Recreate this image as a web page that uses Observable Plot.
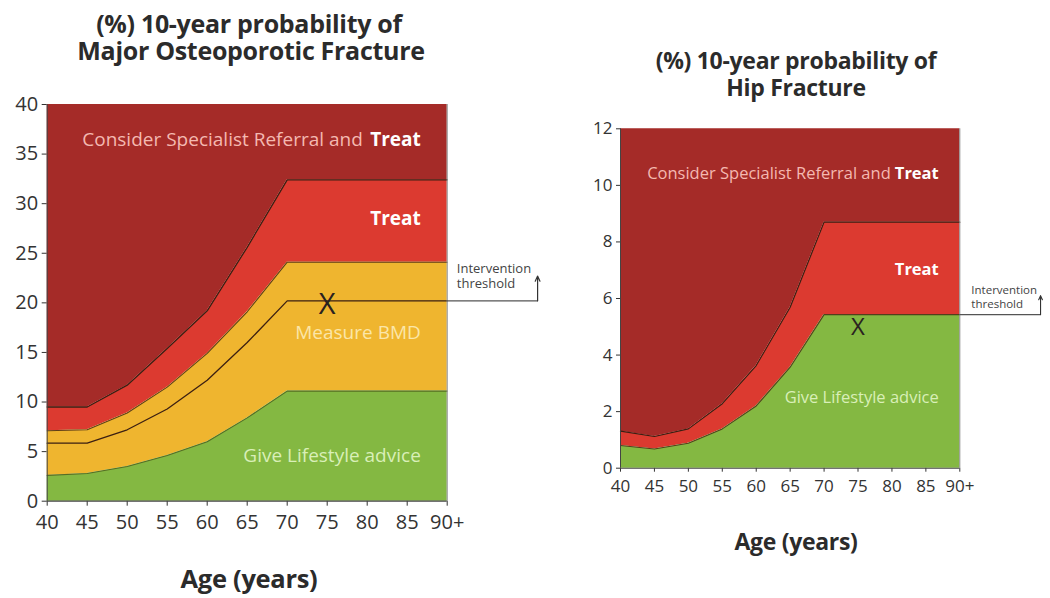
<!DOCTYPE html>
<html>
<head>
<meta charset="utf-8">
<script src="https://cdn.jsdelivr.net/npm/d3@7"></script>
<script src="https://cdn.jsdelivr.net/npm/@observablehq/plot@0.6"></script>
<style>
  body { margin: 0; background: #fff; font-family: "Open Sans", sans-serif; }
  #wrap { position: relative; width: 1050px; height: 598px; overflow: hidden; }
  .title, .xlabel { position: absolute; text-align: center; font-weight: 700; color: #2b2b2b; line-height: 1; white-space: nowrap; }
  .chart { position: absolute; }
</style>
</head>
<body>
<div id="wrap">
  <div class="title" style="left:0;width:498px;top:11px;font-size:25px;letter-spacing:-0.3px;">(%) 10-year probability of</div>
  <div class="title" style="left:0;width:502px;top:38px;font-size:25px;letter-spacing:-0.3px;">Major Osteoporotic Fracture</div>
  <div class="title" style="left:560px;width:472px;top:49px;font-size:23px;letter-spacing:-0.3px;">(%) 10-year probability of</div>
  <div class="title" style="left:560px;width:472px;top:76px;font-size:23px;letter-spacing:-0.3px;">Hip Fracture</div>
  <div class="xlabel" style="left:0;width:498px;top:566px;font-size:25.5px;letter-spacing:-0.3px;">Age (years)</div>
  <div class="xlabel" style="left:560px;width:472px;top:530px;font-size:23px;letter-spacing:-0.3px;">Age (years)</div>
  <div id="left" class="chart" style="left:0;top:90px;"></div>
  <div id="right" class="chart" style="left:560px;top:110px;"></div>
</div>
<script>
// ---------- data ----------
const ages = [40, 45, 50, 55, 60, 65, 70, 75, 80, 85, 90];
const ageTickLabels = ["40", "45", "50", "55", "60", "65", "70", "75", "80", "85", "90+"];

// Major osteoporotic fracture thresholds (%)
const mofLowerAssessment = [2.6, 2.8, 3.5, 4.6, 6.0, 8.4, 11.1, 11.1, 11.1, 11.1, 11.1];
const mofIntervention    = [5.85, 5.85, 7.2, 9.3, 12.2, 16.0, 20.2, 20.2, 20.2, 20.2, 20.2];
const mofUpperAssessment = [7.1, 7.2, 8.9, 11.5, 14.9, 19.1, 24.1, 24.1, 24.1, 24.1, 24.1];
const mofVeryHigh        = [9.5, 9.5, 11.7, 15.4, 19.2, 25.6, 32.4, 32.4, 32.4, 32.4, 32.4];
const mofMax = 40;
const mofYTicks = [0, 5, 10, 15, 20, 25, 30, 35, 40];

// Hip fracture thresholds (%)
const hipIntervention = [0.8, 0.68, 0.88, 1.39, 2.2, 3.57, 5.43, 5.43, 5.43, 5.43, 5.43];
const hipVeryHigh     = [1.31, 1.12, 1.39, 2.28, 3.63, 5.69, 8.7, 8.7, 8.7, 8.7, 8.7];
const hipMax = 12;
const hipYTicks = [0, 2, 4, 6, 8, 10, 12];

// example patient markers
const mofMarker = {age: 75, value: 19.8};
const hipMarker = {age: 75, value: 4.97};

// intervention-threshold callout (data coordinates)
const calloutText = "Intervention\nthreshold";
const mofCallout = {xEnd: 101.3, yTop: 22.7, textX: 91.2, textY: 22.75};
const hipCallout = {xEnd: 101.9, yTop: 6.1, textX: 91.7, textY: 6.07};

// band label anchors (data coordinates, right-aligned)
const mofLabels = {x: 86.7, refer: 36.4, treat: 28.5, bmd: 17.0, life: 4.6};
const hipLabels = {x: 86.9, refer: 10.4, treat: 7.02, life: 2.5};

// ---------- colours ----------
const C = {
  darkRed: "#a52b28",
  red: "#dc3a30",
  orange: "#efb52f",
  green: "#84b842",
  line: "#3b1f12",
  pinkText: "#f4b9b1",
  yellowText: "#fbe6a8",
  greenText: "#d9efb8",
  axis: "#444"
};

const mofRows = ages.map((a, i) => ({
  age: a, low: mofLowerAssessment[i], inter: mofIntervention[i],
  up: mofUpperAssessment[i], vh: mofVeryHigh[i], max: mofMax
}));
const hipRows = ages.map((a, i) => ({
  age: a, inter: hipIntervention[i], vh: hipVeryHigh[i], max: hipMax
}));

const fmtAge = d => ageTickLabels[ages.indexOf(d)];

// ---------- left chart ----------
const left = Plot.plot({
  width: 560, height: 450,
  marginLeft: 46.7, marginRight: 113.3, marginTop: 14, marginBottom: 39.3,
  style: {fontFamily: "Open Sans, sans-serif", fontSize: "20px", color: "#333", background: "transparent", overflow: "visible"},
  x: {domain: [40, 90], ticks: ages, tickFormat: fmtAge, tickSize: 5, tickPadding: 9, label: null},
  y: {domain: [0, mofMax], ticks: mofYTicks, tickSize: 5, tickPadding: 4, label: null},
  marks: [
    Plot.areaY(mofRows, {x: "age", y1: "vh", y2: "max", fill: C.darkRed}),
    Plot.areaY(mofRows, {x: "age", y1: "up", y2: "vh", fill: C.red}),
    Plot.areaY(mofRows, {x: "age", y1: "low", y2: "up", fill: C.orange}),
    Plot.areaY(mofRows, {x: "age", y1: 0, y2: "low", fill: C.green}),
    Plot.line(mofRows, {x: "age", y: "vh", stroke: C.line, strokeWidth: 1.3}),
    Plot.line(mofRows, {x: "age", y: "up", stroke: C.line, strokeWidth: 1.1, strokeOpacity: 0.8}),
    Plot.line(mofRows, {x: "age", y: "inter", stroke: C.line, strokeWidth: 1.3}),
    Plot.line(mofRows, {x: "age", y: "low", stroke: "#4a5a1a", strokeWidth: 1.1, strokeOpacity: 0.8}),
    Plot.ruleX([90], {y1: 0, y2: mofMax, stroke: "#888", strokeWidth: 1}),
    Plot.ruleY([0], {stroke: C.axis, strokeWidth: 1.2}),
    Plot.ruleX([40], {y1: 0, y2: mofMax, stroke: C.axis, strokeWidth: 1}),
    // callout
    Plot.line([[90, mofIntervention[10]], [mofCallout.xEnd, mofIntervention[10]]], {stroke: "#555", strokeWidth: 1.2}),
    Plot.arrow([{x: mofCallout.xEnd, y1: mofIntervention[10], y2: mofCallout.yTop}], {x: "x", y1: "y1", y2: "y2", stroke: "#333", strokeWidth: 1.2, headLength: 7, headAngle: 50}),
    Plot.text([calloutText], {x: mofCallout.textX, y: mofCallout.textY, text: d => d, textAnchor: "start", lineHeight: 1.15, fontSize: 13, fill: "#444"}),
    // marker
    Plot.text([mofMarker], {x: "age", y: "value", text: () => "X", fontSize: 29, fill: "#2a2220"}),
    // band labels
    Plot.text([mofLabels], {x: "x", y: "refer", text: () => "Consider Specialist Referral and", textAnchor: "end", dx: -58, fontSize: 19, fill: C.pinkText}),
    Plot.text([mofLabels], {x: "x", y: "refer", text: () => "Treat", textAnchor: "end", fontSize: 19, fontWeight: 700, fill: "#fff"}),
    Plot.text([mofLabels], {x: "x", y: "treat", text: () => "Treat", textAnchor: "end", fontSize: 19, fontWeight: 700, fill: "#fff"}),
    Plot.text([mofLabels], {x: "x", y: "bmd", text: () => "Measure BMD", textAnchor: "end", fontSize: 19, fill: C.yellowText}),
    Plot.text([mofLabels], {x: "x", y: "life", text: () => "Give Lifestyle advice", textAnchor: "end", fontSize: 19, fill: C.greenText})
  ]
});
document.getElementById("left").append(left);

// ---------- right chart ----------
const right = Plot.plot({
  width: 490, height: 400,
  marginLeft: 60, marginRight: 90.7, marginTop: 18.3, marginBottom: 42.3,
  style: {fontFamily: "Open Sans, sans-serif", fontSize: "17px", color: "#333", background: "transparent", overflow: "visible"},
  x: {domain: [40, 90], ticks: ages, tickFormat: fmtAge, tickSize: 4, tickPadding: 8, label: null},
  y: {domain: [0, hipMax], ticks: hipYTicks, tickSize: 4, tickPadding: 4, label: null},
  marks: [
    Plot.areaY(hipRows, {x: "age", y1: "vh", y2: "max", fill: C.darkRed}),
    Plot.areaY(hipRows, {x: "age", y1: "inter", y2: "vh", fill: C.red}),
    Plot.areaY(hipRows, {x: "age", y1: 0, y2: "inter", fill: C.green}),
    Plot.line(hipRows, {x: "age", y: "vh", stroke: C.line, strokeWidth: 1.2}),
    Plot.line(hipRows, {x: "age", y: "inter", stroke: "#4a2a15", strokeWidth: 1.1, strokeOpacity: 0.85}),
    Plot.ruleX([90], {y1: 0, y2: hipMax, stroke: "#888", strokeWidth: 1}),
    Plot.ruleY([0], {stroke: C.axis, strokeWidth: 1.1}),
    Plot.ruleX([40], {y1: 0, y2: hipMax, stroke: C.axis, strokeWidth: 1}),
    Plot.line([[90, hipIntervention[10]], [hipCallout.xEnd, hipIntervention[10]]], {stroke: "#555", strokeWidth: 1.1}),
    Plot.arrow([{x: hipCallout.xEnd, y1: hipIntervention[10], y2: hipCallout.yTop}], {x: "x", y1: "y1", y2: "y2", stroke: "#333", strokeWidth: 1.1, headLength: 6, headAngle: 50}),
    Plot.text([calloutText], {x: hipCallout.textX, y: hipCallout.textY, text: d => d, textAnchor: "start", lineHeight: 1.2, fontSize: 11.5, fill: "#444"}),
    Plot.text([hipMarker], {x: "age", y: "value", text: () => "X", fontSize: 24, fill: "#2a2220"}),
    Plot.text([hipLabels], {x: "x", y: "refer", text: () => "Consider Specialist Referral and", textAnchor: "end", dx: -48, fontSize: 16.5, fill: C.pinkText}),
    Plot.text([hipLabels], {x: "x", y: "refer", text: () => "Treat", textAnchor: "end", fontSize: 16.5, fontWeight: 700, fill: "#fff"}),
    Plot.text([hipLabels], {x: "x", y: "treat", text: () => "Treat", textAnchor: "end", fontSize: 16.5, fontWeight: 700, fill: "#fff"}),
    Plot.text([hipLabels], {x: "x", y: "life", text: () => "Give Lifestyle advice", textAnchor: "end", fontSize: 16.5, fill: C.greenText})
  ]
});
document.getElementById("right").append(right);
</script>
</body>
</html>
